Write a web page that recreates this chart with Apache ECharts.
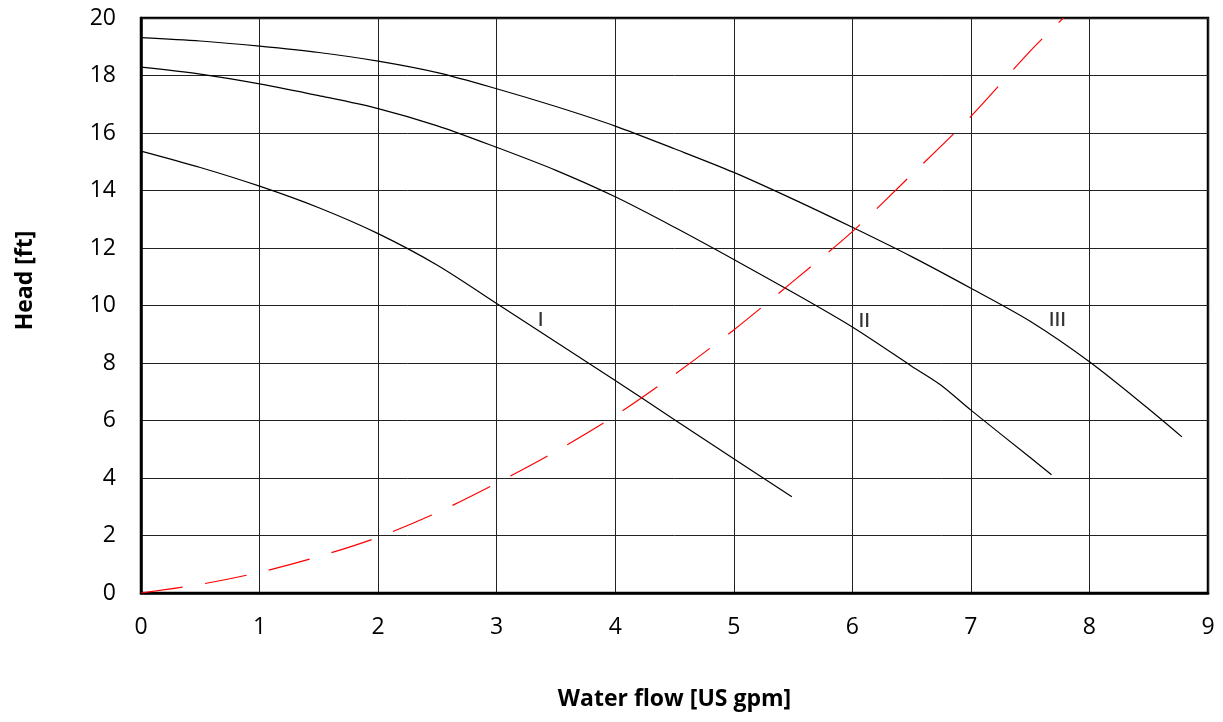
<!DOCTYPE html>
<html>
<head>
<meta charset="utf-8">
<script src="https://cdn.jsdelivr.net/npm/echarts@6/dist/echarts.min.js"></script>
<style>
  html, body { margin: 0; padding: 0; background: #fff; }
  #chart { width: 1223px; height: 722px; }
</style>
</head>
<body>
<div id="chart"></div>
<script>
// pump curves I, II, III and system curve
const flowI = [0, 0.5, 1, 1.5, 2, 2.5, 3, 3.5, 4, 4.5, 5, 5.49];
const headI = [15.37, 14.8, 14.15, 13.4, 12.5, 11.4, 10.07, 8.73, 7.39, 6.03, 4.67, 3.35];

const flowII = [0, 0.5, 1, 1.5, 2, 2.5, 3, 3.5, 4, 4.5, 5, 5.5, 6, 6.5, 6.74, 7, 7.5, 7.68];
const headII = [18.29, 18.05, 17.71, 17.3, 16.85, 16.25, 15.5, 14.7, 13.78, 12.72, 11.6, 10.45, 9.25, 7.89, 7.25, 6.36, 4.71, 4.11];

const flowIII = [0, 0.5, 1, 1.5, 2, 2.5, 3, 3.5, 4, 4.5, 5, 5.5, 6, 6.5, 7, 7.5, 8, 8.5, 8.78];
const headIII = [19.32, 19.2, 19.02, 18.8, 18.5, 18.1, 17.54, 16.92, 16.24, 15.45, 14.63, 13.7, 12.72, 11.7, 10.6, 9.45, 8.04, 6.4, 5.43];

const flowSys = [0, 0.5, 1, 1.5, 2, 2.5, 3, 3.5, 4, 4.5, 5, 5.5, 6, 6.5, 7, 7.5, 7.78];
const headSys = [0, 0.3, 0.72, 1.27, 1.94, 2.8, 3.82, 4.93, 6.17, 7.6, 9.15, 10.84, 12.57, 14.55, 16.58, 18.85, 20];

const curveNames = ['I', 'II', 'III'];
const labelFlow = [3.37, 6.1, 7.73];
const labelHead = [9.48, 9.44, 9.48];

const xTicks = [0, 1, 2, 3, 4, 5, 6, 7, 8, 9];
const yTicks = [0, 2, 4, 6, 8, 10, 12, 14, 16, 18, 20];

const pairs = (xs, ys) => xs.map((x, i) => [x, ys[i]]);

const font = '"Open Sans", "Liberation Sans", sans-serif';

const chart = echarts.init(document.getElementById('chart'));

const pumpLine = (name, xs, ys) => ({
  name: name,
  type: 'line',
  data: pairs(xs, ys),
  smooth: 0.3,
  symbol: 'none',
  lineStyle: { color: '#000', width: 1.2 },
  silent: true
});

chart.setOption({
  animation: false,
  grid: {
    left: 141,
    right: 15,
    top: 18,
    bottom: 129,
    show: true,
    borderColor: '#000',
    borderWidth: 2.5
  },
  xAxis: {
    type: 'value',
    min: xTicks[0],
    max: xTicks[xTicks.length - 1],
    interval: 1,
    name: 'Water flow [US gpm]',
    nameLocation: 'middle',
    nameGap: 95,
    nameTextStyle: { fontFamily: font, fontWeight: 'bold', fontSize: 23, color: '#000' },
    axisLine: { show: true, lineStyle: { color: '#000', width: 2.5 } },
    axisTick: { show: false },
    axisLabel: { fontFamily: font, fontSize: 23, color: '#000', margin: 23 },
    splitLine: { show: true, lineStyle: { color: '#222', width: 1 } }
  },
  yAxis: {
    type: 'value',
    min: yTicks[0],
    max: yTicks[yTicks.length - 1],
    interval: 2,
    name: 'Head [ft]',
    nameLocation: 'middle',
    nameGap: 104,
    nameTextStyle: { fontFamily: font, fontWeight: 'bold', fontSize: 23, color: '#000', padding: [0, 0, 0, 50] },
    axisLine: { show: true, lineStyle: { color: '#000', width: 2.5 } },
    axisTick: { show: false },
    axisLabel: { fontFamily: font, fontSize: 23, color: '#000', margin: 25 },
    splitLine: { show: true, lineStyle: { color: '#222', width: 1 } }
  },
  series: [
    pumpLine('I', flowI, headI),
    pumpLine('II', flowII, headII),
    pumpLine('III', flowIII, headIII),
    {
      name: 'system',
      type: 'line',
      data: pairs(flowSys, headSys),
      smooth: 0.3,
      symbol: 'none',
      lineStyle: { color: '#ff0000', width: 1.2, type: [42, 23] },
      silent: true
    },
    {
      type: 'scatter',
      symbolSize: 0,
      data: curveNames.map((n, i) => ({ value: [labelFlow[i], labelHead[i]], name: n })),
      label: {
        show: true,
        position: 'inside',
        formatter: p => p.name,
        fontFamily: font,
        fontWeight: 600,
        fontSize: 19,
        color: '#000'
      },
      silent: true
    }
  ]
});

window.addEventListener('resize', () => chart.resize());
</script>
</body>
</html>
